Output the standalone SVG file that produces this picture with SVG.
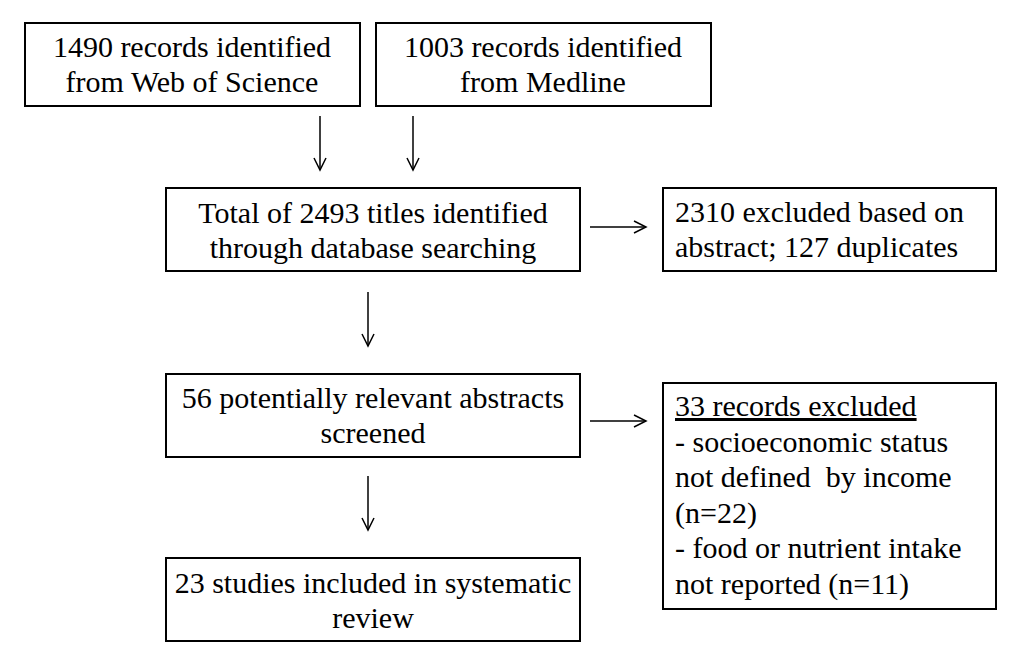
<svg xmlns="http://www.w3.org/2000/svg" width="1024" height="660" viewBox="0 0 1024 660">
<style>
.box{fill:#fff;stroke:#000;stroke-width:2}
text{font-family:'Liberation Serif','Times New Roman',Times,'DejaVu Serif',serif;font-size:30px;fill:#000}
.c{text-anchor:middle}
.con line,.con polyline{stroke:#000;stroke-width:1.5;fill:none}
</style>
<rect width="1024" height="660" fill="#fff"/>
<g id="n1"><rect class="box" x="25" y="23" width="335" height="83"/>
<text class="c" x="192" y="57">1490 records identified</text>
<text class="c" x="192" y="92">from Web of Science</text></g>
<g id="n2"><rect class="box" x="376" y="23" width="335" height="83"/>
<text class="c" x="543" y="57">1003 records identified</text>
<text class="c" x="543" y="92">from Medline</text></g>
<g id="n3"><rect class="box" x="166" y="188" width="414" height="83"/>
<text class="c" x="373" y="223">Total of 2493 titles identified</text>
<text class="c" x="373" y="258">through database searching</text></g>
<g id="n4"><rect class="box" x="663" y="188" width="333" height="83"/>
<text x="675" y="222">2310 excluded based on</text>
<text x="675" y="257">abstract; 127 duplicates</text></g>
<g id="n5"><rect class="box" x="166" y="374" width="414" height="83"/>
<text class="c" x="373" y="408">56 potentially relevant abstracts</text>
<text class="c" x="373" y="443">screened</text></g>
<g id="n6"><rect class="box" x="663" y="383" width="333" height="226"/>
<text x="675" y="416" text-decoration="underline">33 records excluded</text>
<text x="675" y="451.5">- socioeconomic status</text>
<text x="675" y="487" xml:space="preserve">not defined  by income</text>
<text x="675" y="522.5">(n=22)</text>
<text x="675" y="558">- food or nutrient intake</text>
<text x="675" y="593.5">not reported (n=11)</text></g>
<g id="n7"><rect class="box" x="166" y="558" width="414" height="83"/>
<text class="c" x="373" y="593">23 studies included in systematic</text>
<text class="c" x="373" y="628">review</text></g>
<g id="connectors" class="con">
<line x1="320" y1="116" x2="320" y2="170"/><polyline points="314,158 320,170 326,158"/>
<line x1="413" y1="116" x2="413" y2="170"/><polyline points="407,158 413,170 419,158"/>
<line x1="590" y1="227" x2="646" y2="227"/><polyline points="634,221 646,227 634,233"/>
<line x1="368" y1="292" x2="368" y2="346"/><polyline points="362,334 368,346 374,334"/>
<line x1="590" y1="421" x2="646" y2="421"/><polyline points="634,415 646,421 634,427"/>
<line x1="368" y1="476" x2="368" y2="530"/><polyline points="362,518 368,530 374,518"/>
</g>
</svg>
